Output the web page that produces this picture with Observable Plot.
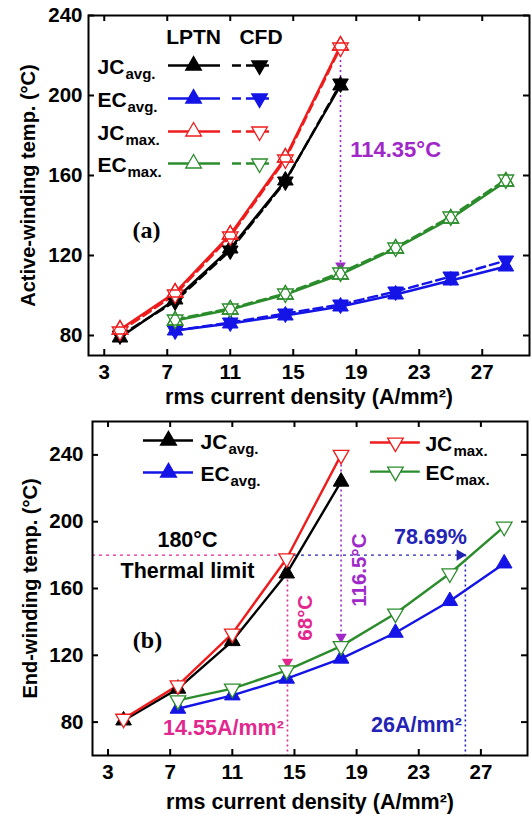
<!DOCTYPE html>
<html>
<head>
<meta charset="utf-8">
<script src="https://cdn.jsdelivr.net/npm/d3@7"></script>
<script src="https://cdn.jsdelivr.net/npm/@observablehq/plot@0.6"></script>
<style>
  html, body { margin: 0; padding: 0; background: #fff; }
  #wrap { position: relative; width: 532px; height: 815px; overflow: hidden; }
  #top, #bot { position: absolute; left: 0; }
  #top { top: 0; z-index: 2; }
  #bot { top: 400px; z-index: 1; }
  #wrap svg { background: transparent !important; }
</style>
</head>
<body>
<div id="wrap"><div id="top"></div><div id="bot"></div></div>
<script>
// ---------- data ----------
const xTicks = [3, 7, 11, 15, 19, 23, 27];
const yTicksA = [80, 120, 160, 200, 240];
const yTicksB = [80, 120, 160, 200, 240];

const jLow = [4, 7.5, 11, 14.5, 18];
const jAll = [7.5, 11, 14.5, 18, 21.5, 25, 28.5];

// (a) Active winding
const aJCavgLPTN = [79, 98, 123.5, 157.5, 205];
const aJCavgCFD  = [80, 97, 122.5, 157, 206];
const aJCmaxLPTN = [83, 101.5, 130.5, 169, 225];
const aJCmaxCFD  = [82, 100.5, 129.5, 168, 224];
const aECavgLPTN = [82.5, 86, 90, 94.5, 100.5, 107.5, 114.5];
const aECavgCFD  = [82.5, 86.5, 91, 95.5, 102, 109.5, 117.5];
const aECmaxLPTN = [87.5, 93, 100.5, 110.5, 123.5, 138.5, 157];
const aECmaxCFD  = [88, 93.5, 101, 111.5, 124, 139.5, 158];

// (b) End winding
const bJCavg = [81, 100, 128.5, 169, 224];
const bJCmax = [82, 102, 133, 178, 240];
const bECavg = [88, 96, 106, 118, 133.5, 152.5, 175];
const bECmax = [93, 100, 111, 125.5, 145, 169, 197];

const legendA = [
  {key: "JC", sub: "avg.", color: "black", fill: "black"},
  {key: "EC", sub: "avg.", color: "#1414e6", fill: "#1414e6"},
  {key: "JC", sub: "max.", color: "#ee1c1c", fill: "white"},
  {key: "EC", sub: "max.", color: "#2b8c2b", fill: "white"}
];

const C = {black: "black", blue: "#1414e6", red: "#ee1c1c", green: "#2b8c2b",
           purple: "#a028c8", magenta: "#e2288e", navy: "#2323b4"};

const FONT = "Liberation Sans, Arial, sans-serif";
const TICK = 20.5, TITLE = 21.5, YTITLE = 20, ANN = 21.5, LEG = 21, SUB = 15, R = 5.8;

function rows(xs, ys) { return xs.map((x, i) => ({x, y: ys[i]})); }

function tickMarks(innerW, innerH, yTicks) {
  const len = 6;
  return [
    Plot.ruleX(xTicks, {insetTop: innerH - len, stroke: "black", strokeWidth: 2}),
    Plot.ruleX(xTicks, {insetBottom: innerH - len, stroke: "black", strokeWidth: 2}),
    Plot.ruleY(yTicks, {insetRight: innerW - len, stroke: "black", strokeWidth: 2}),
    Plot.ruleY(yTicks, {insetLeft: innerW - len, stroke: "black", strokeWidth: 2})
  ];
}

function lineOf(data, color, dashed) {
  return Plot.line(data, {x: "x", y: "y", stroke: color, strokeWidth: 2.4,
    strokeDasharray: dashed ? "9,5" : null});
}
function marker(data, color, filled, down) {
  return Plot.dot(data, {x: "x", y: "y", symbol: "triangle", r: R, rotate: down ? 180 : 0,
    fill: filled ? color : "white", stroke: color, strokeWidth: filled ? 1 : 1.3});
}
function outline(data, color, down) {
  return Plot.dot(data, {x: "x", y: "y", symbol: "triangle", r: R, rotate: down ? 180 : 0,
    fill: "none", stroke: color, strokeWidth: 1.3});
}
function legendText(rowsData, x0) {
  return [
    Plot.text(rowsData, {x: () => x0, y: "y", text: "key", textAnchor: "start", dy: 2, fontSize: LEG, fontWeight: "bold"}),
    Plot.text(rowsData.filter(d => d.key === "JC"), {x: () => x0, y: "y", text: "sub", textAnchor: "start", dx: 28, dy: 9, fontSize: SUB, fontWeight: "bold"}),
    Plot.text(rowsData.filter(d => d.key === "EC"), {x: () => x0, y: "y", text: "sub", textAnchor: "start", dx: 30, dy: 9, fontSize: SUB, fontWeight: "bold"})
  ];
}

// ---------- Panel (a) ----------
{
  const W = 532, H = 400, mL = 88, mR = 3, mT = 15, mB = 45;
  const innerW = W - mL - mR, innerH = H - mT - mB;
  const jcA = rows(jLow, aJCavgLPTN), jcAc = rows(jLow, aJCavgCFD);
  const jmA = rows(jLow, aJCmaxLPTN), jmAc = rows(jLow, aJCmaxCFD);
  const ecA = rows(jAll, aECavgLPTN), ecAc = rows(jAll, aECavgCFD);
  const emA = rows(jAll, aECmaxLPTN), emAc = rows(jAll, aECmaxCFD);

  const legY = [215, 198.5, 182, 166];
  const legRows = legendA.map((d, i) => ({...d, y: legY[i]}));
  const hdrY = 229;

  const plot = Plot.plot({
    width: W, height: H, marginLeft: mL, marginRight: mR, marginTop: mT, marginBottom: mB,
    x: {domain: [2, 30]},
    y: {domain: [70, 240]},
    style: {fontFamily: FONT, fontWeight: "bold", fontSize: "18px", background: "transparent", overflow: "visible"},
    marks: [
      Plot.axisX(xTicks, {tickSize: 0, tickPadding: 9, label: null, fontSize: TICK, fontWeight: "bold"}),
      Plot.axisY(yTicksA, {tickSize: 0, tickPadding: 6, label: null, fontSize: TICK, fontWeight: "bold"}),
      Plot.text(["rms current density (A/mm²)"], {frameAnchor: "bottom", dy: 42, lineAnchor: "middle", textAnchor: "middle", fontSize: TITLE, fontWeight: "bold"}),
      Plot.text(["Active-winding temp. (°C)"], {frameAnchor: "left", dx: -60, rotate: -90, textAnchor: "middle", lineAnchor: "middle", fontSize: YTITLE, fontWeight: "bold"}),
      // annotation
      Plot.ruleX([18], {y1: aJCmaxLPTN[4], y2: aECmaxLPTN[3] + 4, stroke: C.purple, strokeWidth: 1.6, strokeDasharray: "2,3"}),
      Plot.dot([{x: 18, y: aECmaxLPTN[3] + 4.5}], {x: "x", y: "y", symbol: "triangle", rotate: 180, r: 4, fill: C.purple}),
      Plot.text(["114.35°C"], {x: 18.62, y: 173, textAnchor: "start", fill: C.purple, fontSize: 22, fontWeight: "bold"}),
      Plot.text(["(a)"], {x: 5.68, y: 132.5, fontFamily: "Liberation Serif, Times New Roman, serif", fontSize: 24, fontWeight: "bold"}),
      // lines
      lineOf(ecA, C.blue), lineOf(ecAc, C.blue, true),
      lineOf(emA, C.green), lineOf(emAc, C.green, true),
      lineOf(jcA, C.black), lineOf(jcAc, C.black, true),
      lineOf(jmA, C.red), lineOf(jmAc, C.red, true),
      // markers
      marker(ecA, C.blue, true, false), marker(ecAc, C.blue, true, true),
      marker(emA, C.green, false, false), marker(emAc, C.green, false, true), outline(emA, C.green, false),
      marker(jcA, C.black, true, false), marker(jcAc, C.black, true, true),
      marker(jmA, C.red, false, false), marker(jmAc, C.red, false, true), outline(jmA, C.red, false),
      // legend
      Plot.text(["LPTN"], {x: 8.67, y: hdrY, fontSize: LEG, fontWeight: "bold"}),
      Plot.text(["CFD"], {x: 12.95, y: hdrY, fontSize: LEG, fontWeight: "bold"}),
      Plot.ruleY(legRows, {y: "y", x1: 7.08, x2: 10.38, stroke: "color", strokeWidth: 2.4}),
      Plot.ruleY(legRows, {y: "y", x1: 11.14, x2: 13.7, stroke: "color", strokeWidth: 2.4, strokeDasharray: "9,5"}),
      Plot.dot(legRows, {x: () => 8.67, y: "y", symbol: "triangle", r: R, fill: "fill", stroke: "color", strokeWidth: 1.3}),
      Plot.dot(legRows, {x: () => 12.86, y: "y", symbol: "triangle", rotate: 180, r: R, fill: "fill", stroke: "color", strokeWidth: 1.3}),
      ...legendText(legRows, 2.57),
      ...tickMarks(innerW, innerH, yTicksA),
      Plot.frame({stroke: "black", strokeWidth: 2})
    ]
  });
  document.getElementById("top").appendChild(plot);
}

// ---------- Panel (b) ----------
{
  const W = 532, H = 415, mL = 92, mR = 5, mT = 21, mB = 60;
  const innerW = W - mL - mR, innerH = H - mT - mB;
  const jc = rows(jLow, bJCavg), jm = rows(jLow, bJCmax);
  const ec = rows(jAll, bECavg), em = rows(jAll, bECmax);

  const limit = 180, jLimit = 14.55, jBlue = 26;
  const legL = [
    {key: "JC", sub: "avg.", color: C.black, y: 248.6},
    {key: "EC", sub: "avg.", color: C.blue, y: 229.5}
  ];
  const legR = [
    {key: "JC", sub: "max.", color: C.red, y: 247.4},
    {key: "EC", sub: "max.", color: C.green, y: 230}
  ];

  const plot = Plot.plot({
    width: W, height: H, marginLeft: mL, marginRight: mR, marginTop: mT, marginBottom: mB,
    x: {domain: [2, 30]},
    y: {domain: [60, 260]},
    style: {fontFamily: FONT, fontWeight: "bold", fontSize: "18px", background: "transparent", overflow: "visible"},
    marks: [
      Plot.axisX(xTicks, {tickSize: 0, tickPadding: 9, label: null, fontSize: TICK, fontWeight: "bold"}),
      Plot.axisY(yTicksB, {tickSize: 0, tickPadding: 9, label: null, fontSize: TICK, fontWeight: "bold"}),
      Plot.text(["rms current density (A/mm²)"], {frameAnchor: "bottom", dy: 47, lineAnchor: "middle", textAnchor: "middle", fontSize: TITLE, fontWeight: "bold"}),
      Plot.text(["End-winding temp. (°C)"], {frameAnchor: "left", dx: -62, rotate: -90, textAnchor: "middle", lineAnchor: "middle", fontSize: YTITLE, fontWeight: "bold"}),
      // annotations
      Plot.ruleY([limit], {x1: 2, x2: jLimit, stroke: C.magenta, strokeWidth: 1.4, strokeDasharray: "3,4"}),
      Plot.ruleY([limit], {x1: jLimit, x2: jBlue - 0.4, stroke: C.navy, strokeWidth: 1.4, strokeDasharray: "3,4"}),
      Plot.dot([{x: jBlue - 0.35, y: limit}], {x: "x", y: "y", symbol: "triangle", rotate: 90, r: 4.2, fill: C.navy}),
      Plot.ruleX([jLimit], {y1: limit, y2: 60, stroke: C.magenta, strokeWidth: 1.6, strokeDasharray: "2,3"}),
      Plot.dot([{x: jLimit, y: 116}], {x: "x", y: "y", symbol: "triangle", rotate: 180, r: 4.2, fill: C.magenta}),
      Plot.ruleX([18], {y1: bJCmax[4], y2: bECmax[3] + 4, stroke: C.purple, strokeWidth: 1.6, strokeDasharray: "2,3"}),
      Plot.dot([{x: 18, y: bECmax[3] + 5.5}], {x: "x", y: "y", symbol: "triangle", rotate: 180, r: 4.2, fill: C.purple}),
      Plot.ruleX([jBlue], {y1: limit, y2: 60, stroke: C.navy, strokeWidth: 1.6, strokeDasharray: "2,3"}),
      Plot.text(["180°C"], {x: 8.11, y: 188.7, fontSize: ANN, fontWeight: "bold"}),
      Plot.text(["Thermal limit"], {x: 8.11, y: 170.5, fontSize: ANN, fontWeight: "bold"}),
      Plot.text(["(b)"], {x: 5.54, y: 128.9, fontFamily: "Liberation Serif, Times New Roman, serif", fontSize: 24, fontWeight: "bold"}),
      Plot.text(["14.55A/mm²"], {x: 10.43, y: 76.2, fill: C.magenta, fontSize: ANN, fontWeight: "bold"}),
      Plot.text(["26A/mm²"], {x: 22.85, y: 78, fill: C.navy, fontSize: ANN, fontWeight: "bold"}),
      Plot.text(["78.69%"], {x: 23.75, y: 190.5, fill: C.navy, fontSize: ANN, fontWeight: "bold"}),
      Plot.text(["68°C"], {x: 15.7, y: 142.5, rotate: -90, fill: C.magenta, fontSize: 20.5, fontWeight: "bold"}),
      Plot.text(["116.5°C"], {x: 19.2, y: 171, rotate: -90, fill: C.purple, fontSize: 20.5, fontWeight: "bold"}),
      // series
      lineOf(ec, C.blue), lineOf(em, C.green), lineOf(jc, C.black), lineOf(jm, C.red),
      marker(ec, C.blue, true, false),
      marker(em, C.green, false, true),
      marker(jc, C.black, true, false),
      marker(jm, C.red, false, true),
      // legend
      Plot.ruleY(legL, {y: "y", x1: 5.28, x2: 8.5, stroke: "color", strokeWidth: 2.4}),
      Plot.dot(legL, {x: () => 6.89, y: "y", symbol: "triangle", r: R, fill: "color", stroke: "color"}),
      ...legendText(legL, 8.95),
      Plot.ruleY(legR, {y: "y", x1: 19.89, x2: 23.1, stroke: "color", strokeWidth: 2.4}),
      Plot.dot(legR, {x: () => 21.5, y: "y", symbol: "triangle", rotate: 180, r: R, fill: "white", stroke: "color", strokeWidth: 1.3}),
      ...legendText(legR, 23.43),
      ...tickMarks(innerW, innerH, yTicksB),
      Plot.frame({stroke: "black", strokeWidth: 2})
    ]
  });
  document.getElementById("bot").appendChild(plot);
}
</script>
</body>
</html>
